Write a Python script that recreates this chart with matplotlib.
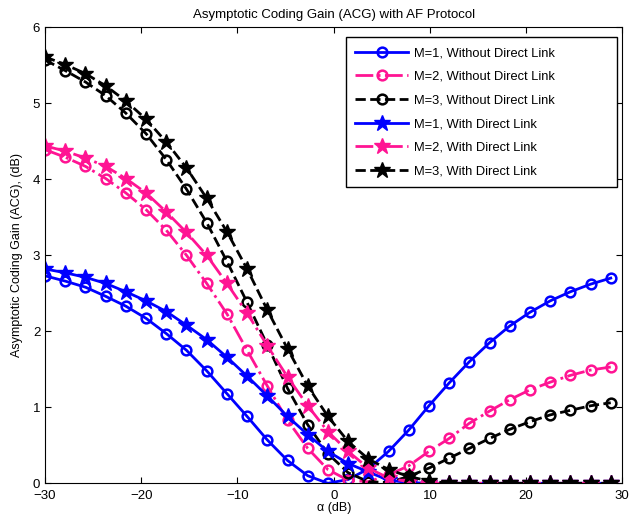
import matplotlib
matplotlib.use("Agg")
import matplotlib.pyplot as plt

plt.rcParams["font.family"] = ["Liberation Sans", "DejaVu Sans"]

# alpha (dB) sample points
alpha_db = [-30.0, -27.9, -25.8, -23.7, -21.6, -19.5, -17.4, -15.3, -13.2, -11.1,
            -9.0, -6.9, -4.8, -2.7, -0.6, 1.5, 3.6, 5.7, 7.8, 9.9,
            12.0, 14.1, 16.2, 18.3, 20.4, 22.5, 24.6, 26.7, 28.8]

m1_no_dl = [2.73, 2.66, 2.58, 2.46, 2.33, 2.17, 1.97, 1.75, 1.48, 1.18,
            0.88, 0.57, 0.30, 0.10, 0.00, 0.05, 0.19, 0.42, 0.70, 1.02,
            1.32, 1.60, 1.85, 2.07, 2.25, 2.40, 2.52, 2.62, 2.70]
m2_no_dl = [4.39, 4.29, 4.17, 4.01, 3.82, 3.60, 3.33, 3.00, 2.63, 2.23,
            1.75, 1.28, 0.83, 0.46, 0.18, 0.04, 0.02, 0.11, 0.23, 0.42,
            0.59, 0.79, 0.95, 1.10, 1.23, 1.33, 1.42, 1.49, 1.53]
m3_no_dl = [5.57, 5.43, 5.28, 5.10, 4.87, 4.60, 4.26, 3.87, 3.43, 2.92,
            2.38, 1.82, 1.25, 0.77, 0.39, 0.14, 0.02, 0.01, 0.09, 0.20,
            0.33, 0.46, 0.59, 0.71, 0.81, 0.90, 0.96, 1.02, 1.06]
m1_dl = [2.82, 2.77, 2.71, 2.63, 2.52, 2.40, 2.26, 2.08, 1.89, 1.66,
         1.41, 1.15, 0.88, 0.64, 0.42, 0.26, 0.15, 0.04, 0.01, 0.0,
         0.0, 0.0, 0.0, 0.0, 0.0, 0.0, 0.0, 0.0, 0.0]
m2_dl = [4.44, 4.37, 4.28, 4.17, 4.01, 3.82, 3.57, 3.30, 3.00, 2.63,
         2.24, 1.81, 1.40, 1.02, 0.68, 0.42, 0.20, 0.07, 0.02, 0.0,
         0.0, 0.0, 0.0, 0.0, 0.0, 0.0, 0.0, 0.0, 0.0]
m3_dl = [5.61, 5.51, 5.39, 5.23, 5.03, 4.79, 4.49, 4.15, 3.75, 3.31,
         2.82, 2.28, 1.77, 1.28, 0.88, 0.55, 0.32, 0.18, 0.09, 0.03,
         0.0, 0.0, 0.0, 0.0, 0.0, 0.0, 0.0, 0.0, 0.0]

PINK = "#FF1493"

fig = plt.figure(figsize=(6.44, 5.20), dpi=100)
ax = fig.add_axes([0.070, 0.0706, 0.8963, 0.8769])

circ = dict(marker="o", markerfacecolor="none", markersize=7, markeredgewidth=1.8)
star = dict(marker="*", markersize=12)

ax.plot(alpha_db, m1_no_dl, "-", color="blue", lw=2, label="M=1, Without Direct Link", **circ)
ax.plot(alpha_db, m2_no_dl, "-.", color=PINK, lw=2, label="M=2, Without Direct Link", **circ)
ax.plot(alpha_db, m3_no_dl, "--", color="black", lw=2, label="M=3, Without Direct Link", **circ)
ax.plot(alpha_db, m1_dl, "-", color="blue", lw=2, label="M=1, With Direct Link", **star)
ax.plot(alpha_db, m2_dl, "-.", color=PINK, lw=2, label="M=2, With Direct Link", **star)
ax.plot(alpha_db, m3_dl, "--", color="black", lw=2, label="M=3, With Direct Link", **star)

ax.set_xlim(-30, 30)
ax.set_ylim(0, 6)
ax.set_xticks(range(-30, 31, 10))
ax.set_yticks(range(0, 7))
ax.tick_params(direction="in", top=True, right=True, labelsize=9.5, length=4)
ax.tick_params(axis="x", pad=4.5)
ax.set_xlabel("α (dB)", fontsize=9, labelpad=0)
ax.set_ylabel("Asymptotic Coding Gain (ACG), (dB)", fontsize=9, labelpad=7)
ax.set_title("Asymptotic Coding Gain (ACG) with AF Protocol", fontsize=9.5, pad=7)

# MATLAB-style legend box: wide frame with text left aligned
leg = ax.legend(loc="upper left", bbox_to_anchor=(0.521, 0.30, 0.470, 0.678),
                mode="expand", borderaxespad=0, fontsize=9.3, handlelength=4.1,
                handletextpad=0.45, labelspacing=0.9, borderpad=0.75,
                fancybox=False, edgecolor="black", framealpha=1)
leg.get_frame().set_linewidth(1.0)

fig.savefig("out.png", dpi=100)
